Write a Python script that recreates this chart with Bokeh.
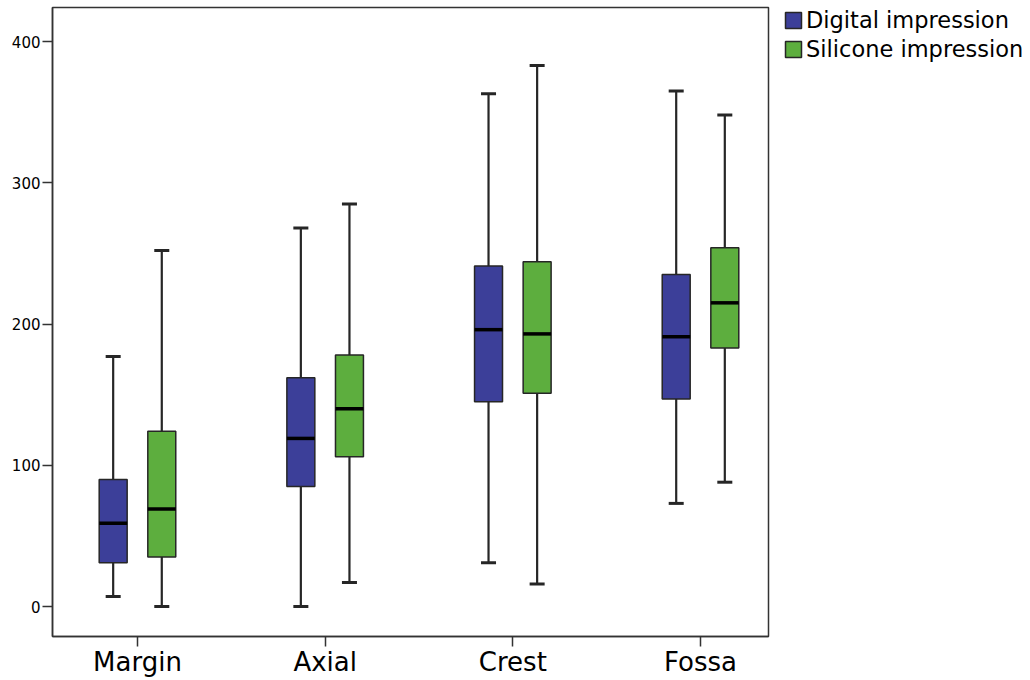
from bokeh.plotting import figure
from bokeh.layouts import row
from bokeh.models import ColumnDataSource, FixedTicker, Legend, LegendItem, Range1d
from bokeh.embed import file_html
from bokeh.resources import INLINE

categories = ["Margin", "Axial", "Crest", "Fossa"]
series = ["Digital impression", "Silicone impression"]

digital_min = [7, 0, 31, 73]
digital_q1 = [31, 85, 145, 147]
digital_median = [59, 119, 196, 191]
digital_q3 = [90, 162, 241, 235]
digital_max = [177, 268, 363, 365]

silicone_min = [0, 17, 16, 88]
silicone_q1 = [35, 106, 151, 183]
silicone_median = [69, 140, 193, 215]
silicone_q3 = [124, 178, 244, 254]
silicone_max = [252, 285, 383, 348]

y_ticks = [0, 100, 200, 300, 400]

colors = ["#3C3F99", "#5DAE3E"]
offsets = [-0.1295, 0.1295]
box_half = 0.0745
cap_half = 0.04
edge = "#262626"

p = figure(width=770, height=680, output_backend="svg", toolbar_location=None,
           x_range=Range1d(0.5472, 4.3623), y_range=Range1d(-21.24, 424.1),
           min_border_left=52, min_border_right=2, min_border_top=7, min_border_bottom=44)

p.xgrid.visible = False
p.ygrid.visible = False
p.outline_line_color = "#333333"
p.outline_line_width = 1.5
p.background_fill_color = "white"
p.border_fill_color = "white"

# legend panel figure (same vertical borders so the frames align)
lg = figure(width=260, height=680, output_backend="svg", toolbar_location=None,
            x_range=Range1d(0, 1), y_range=Range1d(0, 1),
            min_border_left=13, min_border_right=0, min_border_top=7, min_border_bottom=44)
lg.axis.visible = False
lg.xgrid.visible = False
lg.ygrid.visible = False
lg.outline_line_color = None
lg.background_fill_color = "white"
lg.border_fill_color = "white"

data = [
    (digital_min, digital_q1, digital_median, digital_q3, digital_max),
    (silicone_min, silicone_q1, silicone_median, silicone_q3, silicone_max),
]

items = []
for k, (mn, q1, md, q3, mx) in enumerate(data):
    xc = [i + 1 + offsets[k] for i in range(len(categories))]
    src = ColumnDataSource(dict(
        x=xc,
        left=[x - box_half for x in xc], right=[x + box_half for x in xc],
        cl=[x - cap_half for x in xc], cr=[x + cap_half for x in xc],
        mn=mn, q1=q1, md=md, q3=q3, mx=mx,
    ))
    p.segment(x0="x", y0="q3", x1="x", y1="mx", source=src, line_color=edge, line_width=2.2)
    p.segment(x0="x", y0="mn", x1="x", y1="q1", source=src, line_color=edge, line_width=2.2)
    p.segment(x0="cl", y0="mx", x1="cr", y1="mx", source=src, line_color=edge, line_width=3)
    p.segment(x0="cl", y0="mn", x1="cr", y1="mn", source=src, line_color=edge, line_width=3)
    p.quad(left="left", right="right", bottom="q1", top="q3", source=src,
           fill_color=colors[k], line_color=edge, line_width=1.5)
    p.segment(x0="left", y0="md", x1="right", y1="md", source=src, line_color="black", line_width=3.5)
    # swatch renderer for the legend (hidden in the legend panel)
    sw = lg.quad(left="left", right="right", bottom="q1", top="q3", source=src,
                 fill_color=colors[k], line_color=edge, line_width=1.5)
    sw.visible = False
    items.append(LegendItem(label=series[k], renderers=[sw]))

# axes
p.yaxis.ticker = FixedTicker(ticks=y_ticks)
p.yaxis.minor_tick_line_color = None
p.yaxis.major_tick_out = 10
p.yaxis.major_tick_in = 0
p.yaxis.major_tick_line_width = 1.5
p.yaxis.major_tick_line_color = "#333333"
p.yaxis.axis_line_color = "#333333"
p.yaxis.axis_line_width = 1.5
p.yaxis.major_label_text_font = "DejaVu Sans"
p.yaxis.major_label_text_font_size = "15px"
p.yaxis.major_label_text_color = "black"
p.yaxis.major_label_standoff = 2

p.xaxis.ticker = FixedTicker(ticks=[i + 1 for i in range(len(categories))])
p.xaxis.major_label_overrides = {i + 1: c for i, c in enumerate(categories)}
p.xaxis.minor_tick_line_color = None
p.xaxis.major_tick_out = 10
p.xaxis.major_tick_in = 0
p.xaxis.major_tick_line_width = 1.5
p.xaxis.major_tick_line_color = "#333333"
p.xaxis.axis_line_color = "#333333"
p.xaxis.axis_line_width = 1.5
p.xaxis.major_label_text_font = "DejaVu Sans"
p.xaxis.major_label_text_font_size = "26px"
p.xaxis.major_label_text_color = "black"
p.xaxis.major_label_standoff = 0

legend = Legend(
    items=items,
    location="top_left",
    orientation="vertical",
    glyph_width=20, glyph_height=20,
    label_text_font="DejaVu Sans", label_text_font_size="22.5px", label_text_color="black",
    label_standoff=3, spacing=3, padding=6, margin=0,
    border_line_color=None, background_fill_alpha=0,
    inactive_fill_alpha=0,
    label_height=26,
)
lg.add_layout(legend)

layout = row(p, lg, spacing=0)
open("out.html", "w").write(file_html(layout, INLINE))
